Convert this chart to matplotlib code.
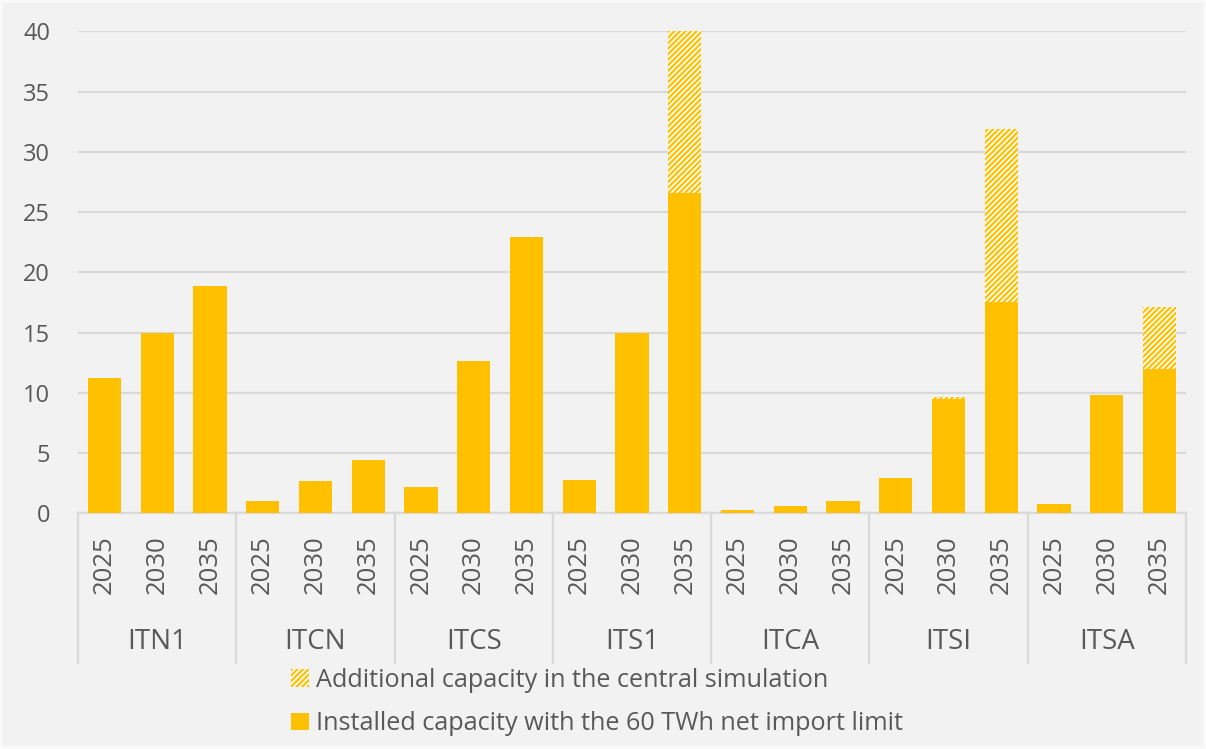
import numpy as np
import matplotlib
matplotlib.use("Agg")
import matplotlib.pyplot as plt
from matplotlib.patches import Patch, Rectangle
from matplotlib.lines import Line2D
import matplotlib.transforms as mtransforms

regions = ['ITN1', 'ITCN', 'ITCS', 'ITS1', 'ITCA', 'ITSI', 'ITSA']
years = ['2025', '2030', '2035']
installed = [11.2, 15.0, 18.9,
             1.0, 2.7, 4.4,
             2.2, 12.6, 22.9,
             2.8, 15.0, 26.6,
             0.25, 0.6, 1.0,
             2.9, 9.5, 17.5,
             0.8, 9.8, 12.0]
additional = [0, 0, 0,
              0, 0, 0,
              0, 0, 0,
              0, 0, 13.4,
              0, 0, 0,
              0, 0.15, 14.4,
              0, 0, 5.1]
yticks = [0, 5, 10, 15, 20, 25, 30, 35, 40]
legend_labels = ['Additional capacity in the central simulation',
                 'Installed capacity with the 60 TWh net import limit']

GOLD = '#FFC000'
BG = '#F2F2F2'
GRID = '#D9D9D9'
TXT = '#595959'

plt.rcParams['font.family'] = ['Open Sans', 'DejaVu Sans']
plt.rcParams['hatch.linewidth'] = 1.6

W, H = 1206, 749
fig = plt.figure(figsize=(W / 100, H / 100), dpi=100, facecolor=BG)
ax = fig.add_axes([78 / W, 1 - 513.3 / H, (1186 - 78) / W, (513.3 - 31.3) / H])
ax.set_facecolor(BG)

n = len(regions) * len(years)
x = np.arange(n)
bw = 0.63
ax.bar(x, installed, width=bw, color=GOLD, edgecolor='none', zorder=3)
ax.bar(x, additional, width=bw, bottom=installed, facecolor='white',
       edgecolor=GOLD, hatch='//////', linewidth=0, zorder=3)

ax.set_xlim(-0.5, n - 0.5)
ax.set_ylim(0, 40)
ax.set_yticks(yticks)
ax.yaxis.grid(True, color=GRID, linewidth=1.6, zorder=0)
ax.set_axisbelow(True)
for s in ['top', 'right', 'left']:
    ax.spines[s].set_visible(False)
ax.spines['bottom'].set_color(GRID)
ax.spines['bottom'].set_linewidth(1.6)
ax.tick_params(axis='y', length=0, pad=20, labelsize=17, labelcolor=TXT)

ax.set_xticks(x)
ax.set_xticklabels(years * len(regions), rotation=90, fontsize=18.5, color=TXT)
ax.tick_params(axis='x', length=0, pad=16)

trans = mtransforms.blended_transform_factory(ax.transData, ax.transAxes)
ylow = (513.3 - 663) / (513.3 - 31.3)
ygrp = (513.3 - 642) / (513.3 - 31.3)
for i in range(len(regions) + 1):
    xs = i * len(years) - 0.5
    ax.add_line(Line2D([xs, xs], [0, ylow], transform=trans, color=GRID,
                       linewidth=1.6, clip_on=False))
for i, r in enumerate(regions):
    ax.text(i * len(years) + 1, ygrp, r, transform=trans, ha='center',
            va='center', fontsize=20, color=TXT)

handles = [Patch(facecolor='white', edgecolor=GOLD, hatch='//////', linewidth=0),
           Patch(facecolor=GOLD, edgecolor='none')]
fig.legend(handles, legend_labels, loc='center', bbox_to_anchor=(0.495, 1 - 702 / H),
           frameon=False, fontsize=18.2, labelcolor=TXT, handlelength=0.7,
           handleheight=0.7, handletextpad=0.3, labelspacing=0.75)

fig.patches.append(Rectangle((0, 0), 1, 1, transform=fig.transFigure,
                             facecolor='none', edgecolor='#FAFAFA', linewidth=4))

fig.savefig('out.png', dpi=100, facecolor=BG)
